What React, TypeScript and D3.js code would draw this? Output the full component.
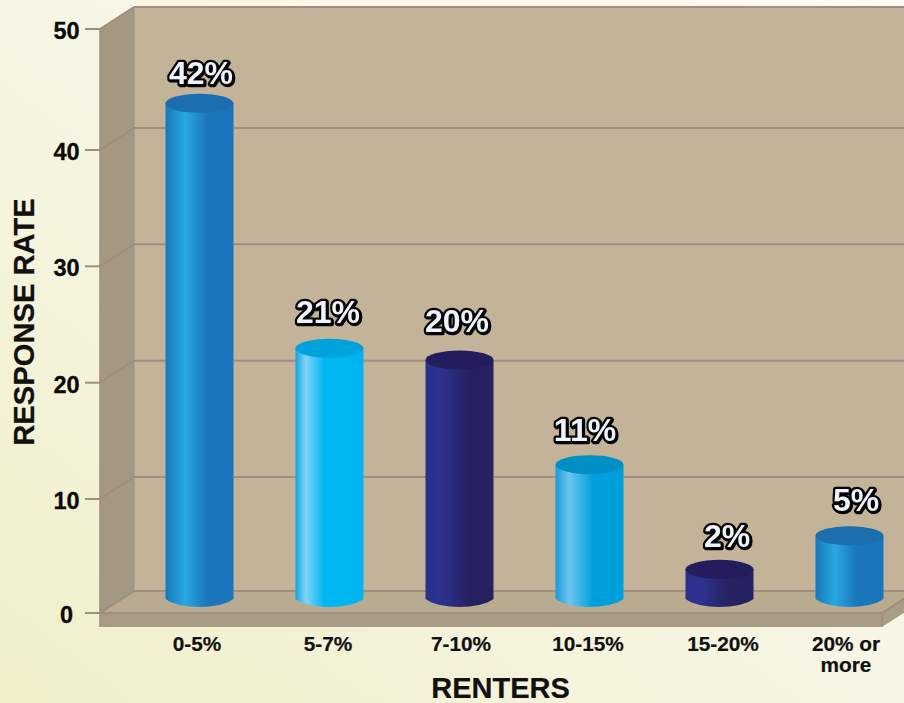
import React from "react";
import * as d3 from "d3";

const categories = ["0-5%", "5-7%", "7-10%", "10-15%", "15-20%", "20% or more"];
const barValues = [42.7, 21.75, 20.75, 11.75, 2.6, 5.55];
const valueLabels = ["42%", "21%", "20%", "11%", "2%", "5%"];
const barStyles = ["blue", "sky", "navy", "cyan", "navy", "blue"];
const yTicks = [0, 10, 20, 30, 40, 50];

// layout
const W = 904, H = 703;
const DX = 34, DY = 22, SLAB = 14, RIGHT = 882, LEFT = 100;
const RX = 34, RY_TOP = 9.5, RY_BOTTOM = 8, BAR_DEPTH = 14;
const labelDx = [1.5, -1.5, -2.5, -4.5, 7.5, 6.5];
const labelDy = [-30, -36, -39, -35, -33, -36];
const catDx = [-2.5, -1.5, 1.5, -1.5, 3.5, -3.5];
const LINE = "#a18c80";

const palettes: Record<string, { stops: [number, string][]; top: string }> = {
  blue: { stops: [[0, "#1877bb"], [0.28, "#27a8e0"], [0.62, "#1b75bb"], [1, "#1b75bb"]], top: "#1c6eae" },
  sky: { stops: [[0, "#12a5e0"], [0.15, "#7fd3f7"], [0.42, "#00b8f1"], [1, "#00b5ef"]], top: "#00a2dc" },
  navy: { stops: [[0, "#2a3088"], [0.22, "#2e3191"], [0.62, "#262262"], [1, "#262262"]], top: "#231d5e" },
  cyan: { stops: [[0, "#1d9ad6"], [0.2, "#6cc5ee"], [0.55, "#00a0dd"], [1, "#00a0dd"]], top: "#0090c6" },
};

// the printed axis is not evenly spaced, so the scale is piecewise
const y = d3.scaleLinear().domain([0, 10, 40, 50]).range([613, 499, 150, 29]);
const x = d3.scalePoint<string>().domain(categories).range([199.5, 849.5]);

const poly = (pts: [number, number][]) => pts.map((p) => p.join(",")).join(" ");

function cylinderPath(cx: number, top: number, base: number) {
  const p = d3.path();
  p.moveTo(cx - RX, top);
  p.lineTo(cx - RX, base);
  p.bezierCurveTo(cx - RX * 0.6, base + RY_BOTTOM * 1.33, cx + RX * 0.6, base + RY_BOTTOM * 1.33, cx + RX, base);
  p.lineTo(cx + RX, top);
  p.closePath();
  return p.toString();
}

export default function App() {
  const y0 = y(0);
  const yTop = y(50);
  return (
    <svg
      width={W}
      height={H}
      viewBox={`0 0 ${W} ${H}`}
      style={{ position: "fixed", left: 0, top: 0, display: "block" }}
      fontFamily="'Liberation Sans', Arial, sans-serif"
    >
      <defs>
        <linearGradient id="bg" x1="0" y1="1" x2="1" y2="0">
          <stop offset="0" stopColor="#f0efc9" />
          <stop offset="0.45" stopColor="#f6f5e2" />
          <stop offset="1" stopColor="#fcfcf4" />
        </linearGradient>
        {Object.entries(palettes).map(([k, v]) => (
          <linearGradient key={k} id={`g-${k}`} x1="0" y1="0" x2="1" y2="0">
            {v.stops.map(([o, c], i) => (
              <stop key={i} offset={o} stopColor={c} />
            ))}
          </linearGradient>
        ))}
      </defs>
      <rect width={W} height={H} fill="url(#bg)" />

      {/* back wall, side wall, floor, slab */}
      <rect x={LEFT + DX} y={yTop - DY} width={W} height={y0 - yTop} fill="#c2b399" />
      <polygon
        points={poly([[LEFT, yTop], [LEFT + DX, yTop - DY], [LEFT + DX, y0 - DY], [LEFT, y0 + SLAB]])}
        fill="#a39881"
      />
      <polygon
        points={poly([[LEFT, y0], [LEFT + DX, y0 - DY], [RIGHT + DX, y0 - DY], [RIGHT, y0]])}
        fill="#b8ab8f"
      />
      <rect x={LEFT} y={y0} width={RIGHT - LEFT} height={SLAB} fill="#a89c84" />
      <polygon
        points={poly([[RIGHT, y0], [RIGHT + DX, y0 - DY], [RIGHT + DX, y0 - DY + SLAB], [RIGHT, y0 + SLAB]])}
        fill="#a89c84"
      />

      {/* grid */}
      {yTicks.map((t) => (
        <g key={t} stroke={LINE} strokeWidth={2} fill="none">
          <line x1={85} x2={LEFT} y1={y(t)} y2={y(t)} />
          <line x1={LEFT} y1={y(t)} x2={LEFT + DX} y2={y(t) - DY} />
          <line x1={LEFT + DX} y1={y(t) - DY} x2={W + 2} y2={y(t) - DY} />
        </g>
      ))}
      <line x1={LEFT} x2={RIGHT} y1={y0} y2={y0} stroke={LINE} strokeWidth={2} />
      <line x1={RIGHT} y1={y0} x2={RIGHT + DX} y2={y0 - DY} stroke={LINE} strokeWidth={2} />
      <line x1={RIGHT} x2={RIGHT} y1={y0} y2={y0 + SLAB} stroke={LINE} strokeWidth={1.5} />
      <line x1={LEFT} x2={LEFT} y1={yTop} y2={y0 + SLAB} stroke={LINE} strokeWidth={1.5} />
      <line x1={LEFT + DX} x2={LEFT + DX} y1={yTop - DY} y2={y0 - DY} stroke={LINE} strokeWidth={1} />

      {/* y tick labels */}
      {yTicks.map((t) => (
        <text
          key={t}
          x={66.5}
          y={y(t) + 10}
          textAnchor="middle"
          fontSize={23.5}
          fontWeight="bold"
          fill="#0b0b0b"
          stroke="#0b0b0b"
          strokeWidth={0.3}
        >
          {t}
        </text>
      ))}

      {/* bars */}
      {categories.map((c, i) => {
        const cx = x(c)!;
        const top = y(barValues[i]) - BAR_DEPTH;
        const base = y0 - BAR_DEPTH;
        const pal = palettes[barStyles[i]];
        return (
          <g key={c}>
            <path d={cylinderPath(cx, top, base)} fill={`url(#g-${barStyles[i]})`} />
            <ellipse cx={cx} cy={top} rx={RX} ry={RY_TOP} fill={pal.top} />
          </g>
        );
      })}

      {/* value labels */}
      {categories.map((c, i) => {
        const cx = x(c)! + labelDx[i];
        const cy = y(barValues[i]) - BAR_DEPTH + labelDy[i] + 11;
        return (
          <text
            key={c}
            x={cx}
            y={cy}
            textAnchor="middle"
            fontSize={32}
            fontWeight="bold"
            fill="#eef3fc"
            stroke="#060606"
            strokeWidth={4.5}
            strokeLinejoin="round"
            paintOrder="stroke"
            style={{ filter: "drop-shadow(1px 1px 0 #000)" }}
          >
            {valueLabels[i]}
          </text>
        );
      })}

      {/* category labels */}
      {categories.map((c, i) => {
        const cx = x(c)! + catDx[i];
        const lines = c === "20% or more" ? ["20% or", "more"] : [c];
        return (
          <text key={c} textAnchor="middle" fontSize={20.8} fontWeight="bold" fill="#111" stroke="#111" strokeWidth={0.2}>
            {lines.map((l, j) => (
              <tspan key={j} x={cx} y={651 + j * 21}>
                {l}
              </tspan>
            ))}
          </text>
        );
      })}

      <text x={500.5} y={697.5} textAnchor="middle" fontSize={29} fontWeight="bold" fill="#111" stroke="#111" strokeWidth={0.2}>
        RENTERS
      </text>
      <text
        transform="translate(34,322) rotate(-90)"
        textAnchor="middle"
        fontSize={29.2}
        fontWeight="bold"
        fill="#111"
        stroke="#111"
        strokeWidth={0.2}
      >
        RESPONSE RATE
      </text>
    </svg>
  );
}
